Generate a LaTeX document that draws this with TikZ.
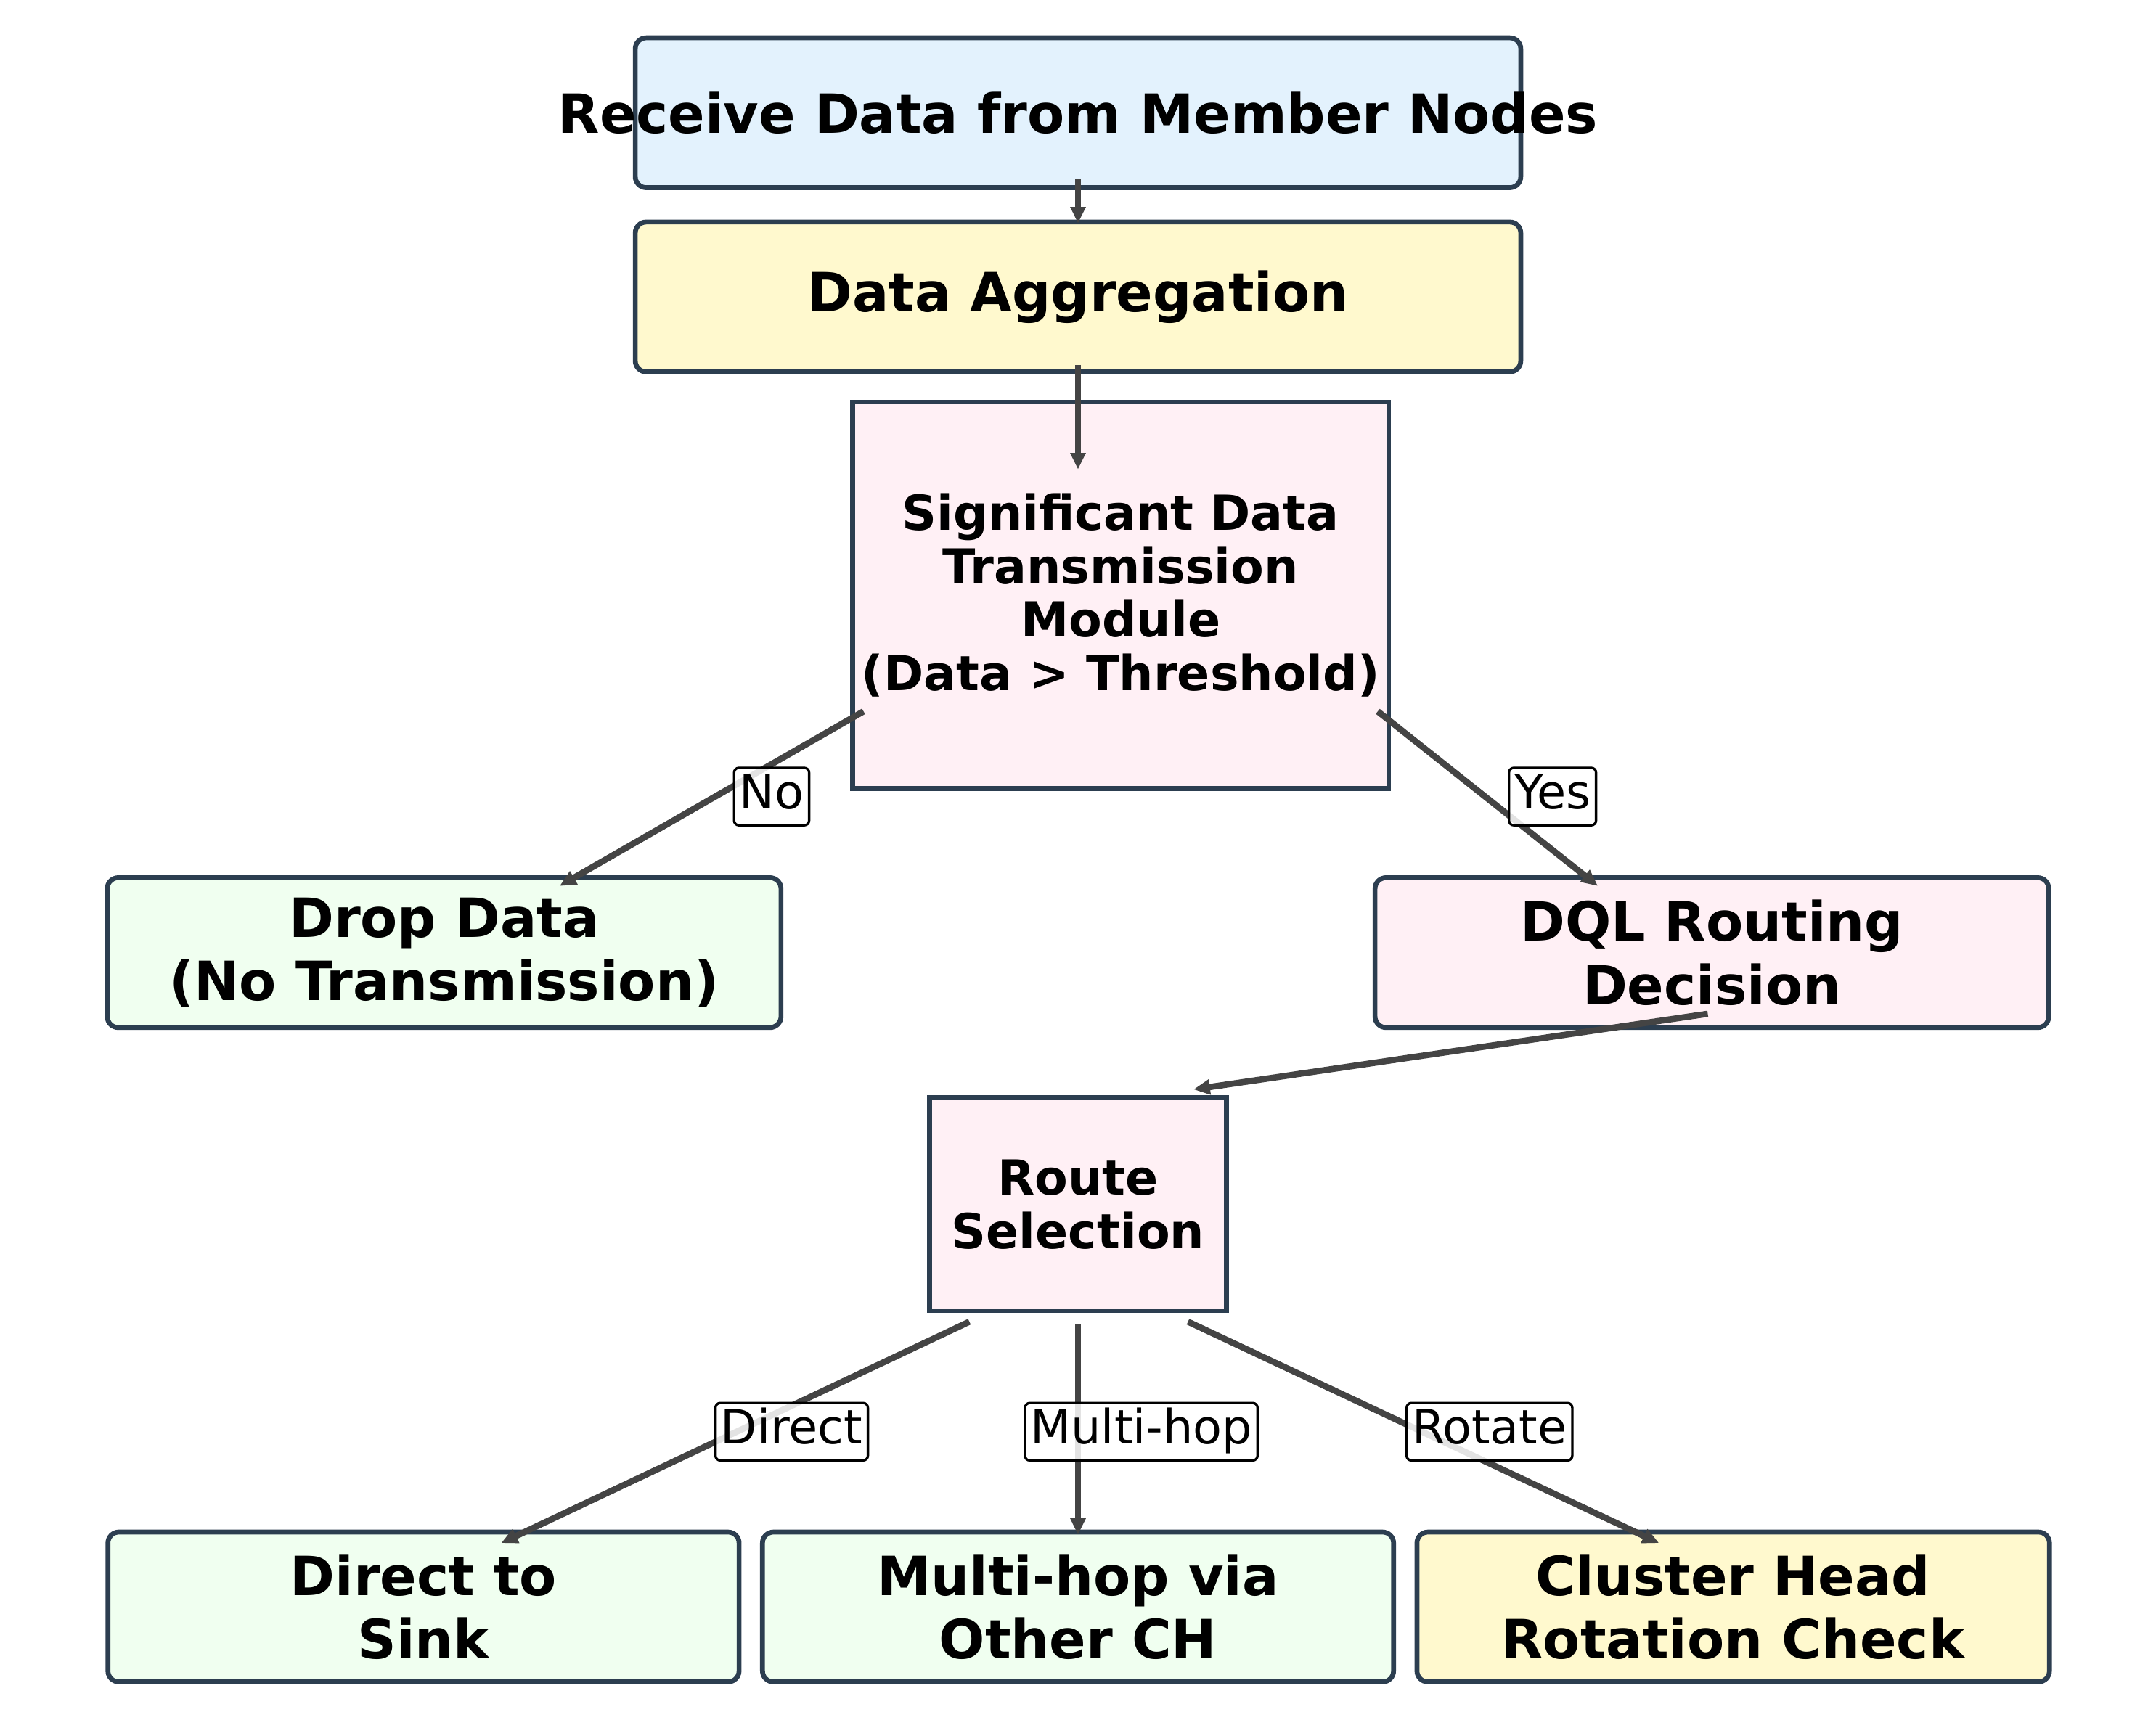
\documentclass[tikz,border=0pt]{standalone}
\usepackage{fontspec}
\setmainfont{DejaVu Sans}
\usepackage{tikz}
\usetikzlibrary{arrows.meta,positioning}
\tikzstyle{stage} = [rectangle, rounded corners=0.08cm, minimum height=1.09cm, inner sep=0pt, outer sep=0pt, text centered, draw={rgb, 255:red, 44; green, 62; blue, 80 }, line width=1pt, font=\fontsize{11.2}{13.1}\selectfont\bfseries]
\tikzstyle{stageblue} = [stage, fill={rgb, 255:red, 227; green, 242; blue, 253 }]
\tikzstyle{stageyellow} = [stage, fill={rgb, 255:red, 255; green, 249; blue, 206 }]
\tikzstyle{stagegreen} = [stage, fill={rgb, 255:red, 240; green, 255; blue, 240 }]
\tikzstyle{stagepink} = [stage, fill={rgb, 255:red, 255; green, 240; blue, 245 }]
\tikzstyle{module} = [rectangle, inner sep=0pt, outer sep=0pt, text centered, draw={rgb, 255:red, 44; green, 62; blue, 80 }, fill={rgb, 255:red, 255; green, 240; blue, 245 }, line width=1pt, font=\fontsize{10}{11.1}\selectfont\bfseries]
\tikzstyle{answer} = [rectangle, rounded corners=1pt, draw=black, line width=0.5pt, fill=white, fill opacity=0.85, text opacity=1, inner sep=1.1pt, text height=7.4pt, text depth=2.3pt, font=\fontsize{9.8}{11.8}\selectfont]
\tikzstyle{arrow} = [line width=1.3pt, draw={rgb, 255:red, 68; green, 68; blue, 68 }, -{Triangle[length=3.4pt, width=3pt]}]

\begin{document}
\begin{tikzpicture}[every text node part/.style={align=center}]
		\useasboundingbox (0,0) rectangle (15.68,-12.51);
		
		\node (receive) [stageblue, minimum width=6.44cm] at (7.84,-0.82) {\makebox[0pt]{Receive Data from Member Nodes}};
		\node (aggregate) [stageyellow, minimum width=6.44cm, below = 0.25cm of receive] {Data Aggregation};
		\node (significant) [module, minimum width=3.9cm, minimum height=2.81cm, below = 0.22cm of aggregate, xshift=0.31cm] {Significant Data\\Transmission\\Module\\(Data > Threshold)};
		
		\node (drop) [stagegreen, minimum width=4.9cm, below left = 0.65cm and 0.52cm of significant] {Drop Data\\(No Transmission)};
		\node (dql) [stagepink, minimum width=4.9cm, below right = 0.65cm and -0.1cm of significant] {DQL Routing\\Decision};
		
		\node (route) [module, minimum width=2.16cm, minimum height=1.55cm, below = 2.25cm of significant, xshift=-0.31cm] {Route\\Selection};
		
		\node (multihop) [stagegreen, minimum width=4.59cm, below = 1.61cm of route] {Multi-hop via\\Other CH};
		\node (direct) [stagegreen, minimum width=4.59cm, left = 0.17cm of multihop] {Direct to\\Sink};
		\node (rotation) [stageyellow, minimum width=4.6cm, right = 0.17cm of multihop] {Cluster Head\\Rotation Check};
		
		% connectors
		\draw [arrow] ([yshift=0.06cm]receive.south) -- ([yshift=-0.01cm]aggregate.north);
		\draw [arrow] ([yshift=0.05cm]aggregate.south) -- ([xshift=-0.31cm, yshift=-0.49cm]significant.north);
		
		\draw [arrow] ([xshift=0.08cm, yshift=0.56cm]significant.south west) -- node[answer, pos=0.488, xshift=0.41cm]{No} ([xshift=0.84cm, yshift=-0.06cm]drop.north);
		\draw [arrow] ([xshift=-0.08cm, yshift=0.56cm]significant.south east) -- node[answer, pos=0.488, xshift=0.49cm]{Yes} ([xshift=-0.83cm, yshift=-0.06cm]dql.north);
		
		\draw [arrow] ([xshift=-0.03cm, yshift=0.1cm]dql.south) -- ([xshift=0.84cm, yshift=0.06cm]route.north);
		
		\draw [arrow] ([xshift=-0.79cm, yshift=-0.08cm]route.south) -- node[answer, pos=0.497, xshift=0.4cm]{Direct} ([xshift=0.565cm, yshift=-0.08cm]direct.north);
		\draw [arrow] ([yshift=-0.1cm]route.south) -- node[answer, pos=0.51, xshift=0.46cm]{Multi-hop} ([yshift=-0.02cm]multihop.north);
		\draw [arrow] ([xshift=0.8cm, yshift=-0.08cm]route.south) -- node[answer, pos=0.497, xshift=0.49cm]{Rotate} ([xshift=-0.54cm, yshift=-0.08cm]rotation.north);
		
\end{tikzpicture}
\end{document}
